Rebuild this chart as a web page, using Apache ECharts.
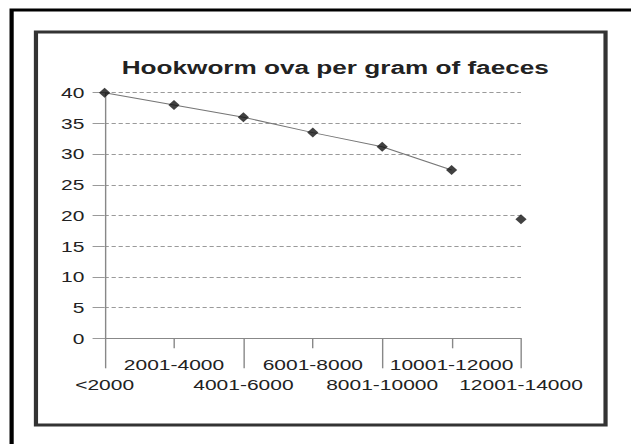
<!DOCTYPE html>
<html><head><meta charset="utf-8">
<script src="https://cdn.jsdelivr.net/npm/echarts@6/dist/echarts.min.js"></script>
<style>
html,body{margin:0;padding:0;background:#fff;overflow:hidden}
#wrap{width:631px;height:444px;overflow:hidden}
#chart{width:451px;height:444px;transform:scaleX(1.399113);transform-origin:0 0}
</style>
</head><body><div id="wrap"><div id="chart"></div></div>
<script>
// ---- data ----
const chartTitle = 'Hookworm ova per gram of faeces';
const categories = ['<2000', '2001-4000', '4001-6000', '6001-8000', '8001-10000', '10001-12000', '12001-14000'];
const ovaValues = [40, 38, 36, 33.5, 31.2, 27.4, 19.4];
const joinedCount = 6;            // the first six points are joined by the line
const yMin = 0, yMax = 40, yStep = 5;

// ---- derived series ----
const lineData = ovaValues.map((v, i) => (i < joinedCount ? v : '-'));

const font = "'Liberation Sans', Arial, sans-serif";
const textColor = '#222';
const gridColor = '#9a9a9a';

const chart = echarts.init(document.getElementById('chart'), null, { renderer: 'svg' });
chart.setOption({
  backgroundColor: '#fff',
  animation: false,
  title: {
    text: chartTitle,
    left: 87,
    top: 58,
    padding: 0,
    textStyle: { fontFamily: font, fontSize: 18.7, fontWeight: 'bold', color: textColor }
  },
  graphic: [
    { type: 'rect', silent: true, z: -10,
      shape: { x: 8.3, y: 10, width: 700, height: 700 },
      style: { fill: 'none', stroke: '#000', lineWidth: 3 } },
    { type: 'rect', silent: true, z: -10,
      shape: { x: 25.7, y: 32, width: 407.1, height: 393 },
      style: { fill: 'none', stroke: '#333', lineWidth: 3 } }
  ],
  grid: { left: 74.76, right: 78.62, top: 92.7, bottom: 105.7, containLabel: false },
  xAxis: [
    {
      type: 'category', data: categories, boundaryGap: false, position: 'bottom',
      axisLine: { show: true, lineStyle: { color: '#888', width: 1 } },
      axisTick: { show: true, length: 30, interval: (i) => i % 2 === 0, lineStyle: { color: '#888' } },
      axisLabel: { interval: (i) => i % 2 === 0, margin: 39, fontFamily: font, fontSize: 15, color: textColor },
      splitLine: { show: false }
    },
    {
      type: 'category', data: categories, boundaryGap: false, position: 'bottom',
      axisLine: { show: false },
      axisTick: { show: true, length: 10, interval: (i) => i % 2 === 1, lineStyle: { color: '#888' } },
      axisLabel: { interval: (i) => i % 2 === 1, margin: 19, fontFamily: font, fontSize: 15, color: textColor },
      splitLine: { show: false }
    }
  ],
  yAxis: {
    type: 'value', min: yMin, max: yMax, interval: yStep,
    axisLine: { show: true, lineStyle: { color: '#888', width: 1 } },
    axisTick: { show: true, length: 8.6, lineStyle: { color: gridColor } },
    axisLabel: { margin: 14.4, fontFamily: font, fontSize: 15, color: textColor },
    splitLine: { show: true, lineStyle: { color: gridColor, width: 1, type: [3, 2] } }
  },
  series: [
    {
      type: 'line', xAxisIndex: 0, data: lineData, symbol: 'none',
      lineStyle: { color: '#777', width: 1 }, z: 2
    },
    {
      type: 'scatter', xAxisIndex: 0, data: ovaValues, symbol: 'diamond', symbolSize: [8, 10],
      itemStyle: { color: '#111' }, z: 3
    }
  ]
});
</script>
</body></html>
